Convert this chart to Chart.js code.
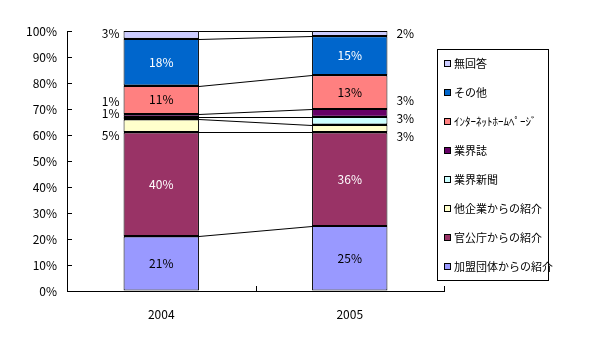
<!DOCTYPE html>
<html lang="ja">
<head>
  <meta charset="UTF-8">
  <title>紹介経路</title>
  <style>
    html, body { margin: 0; padding: 0; background: #fff; }
    #wrap { width: 598px; height: 362px; position: relative; }
  </style>
</head>
<body>
  <div id="wrap"><canvas id="grafico" width="598" height="362"></canvas></div>

  <script src="https://cdn.jsdelivr.net/npm/chart.js"></script>
  <script>
    // datos (de abajo hacia arriba)
    const anios = ['2004', '2005'];
    const series = ['加盟団体からの紹介', '官公庁からの紹介', '他企業からの紹介', '業界新聞', '業界誌', 'ｲﾝﾀｰﾈｯﾄﾎｰﾑﾍﾟｰｼﾞ', 'その他', '無回答'];
    const kameiDantai = [21, 25];
    const kankocho = [40, 36];
    const taKigyo = [5, 3];
    const gyokaiShinbun = [1, 3];
    const gyokaiShi = [1, 3];
    const internet = [11, 13];
    const sonota = [18, 15];
    const mukaito = [3, 2];
    const yTicks = [0, 10, 20, 30, 40, 50, 60, 70, 80, 90, 100];

    const colores = ['#9999FF', '#993366', '#FFFFCC', '#CCFFFF', '#660066', '#FF8080', '#0066CC', '#CCCCFF'];
    const colorTexto = ['#000', '#fff', '#000', '#000', '#fff', '#000', '#fff', '#000'];
    // desplazamiento vertical de las etiquetas pequeñas (px)
    const desplaza2004 = [0, 0, 10, -5, -14, 0, 0, -1];
    const desplaza2005 = [0, 0, 8, -2, -12, 0, 0, 0];

    const valores = [kameiDantai, kankocho, taKigyo, gyokaiShinbun, gyokaiShi, internet, sonota, mukaito];
    const fuente = '"Noto Sans CJK JP", "DejaVu Sans", sans-serif';

    const extras = {
      id: 'extras',
      afterDatasetsDraw(chart) {
        const ctx = chart.ctx;
        const area = chart.chartArea;
        const ys = chart.scales.y;
        ctx.save();

        // bordes gruesos entre segmentos
        ctx.fillStyle = '#000';
        valores.forEach((v, i) => {
          chart.getDatasetMeta(i).data.forEach(bar => {
            const x0 = Math.round(bar.x - bar.width / 2);
            const x1 = Math.round(bar.x + bar.width / 2);
            if (i < valores.length - 1) ctx.fillRect(x0, Math.round(bar.y) - 1, x1 - x0, 2);
          });
        });

        // lineas de serie entre barras
        ctx.strokeStyle = '#000';
        ctx.lineWidth = 1;
        valores.forEach((v, i) => {
          const m = chart.getDatasetMeta(i).data;
          const a = m[0], b = m[1];
          ctx.beginPath();
          ctx.moveTo(a.x + a.width / 2, Math.round(a.y) + 0.5);
          ctx.lineTo(b.x - b.width / 2, Math.round(b.y) + 0.5);
          ctx.stroke();
        });

        // marcas del eje Y hacia dentro
        yTicks.forEach(t => {
          const y = Math.round(ys.getPixelForValue(t)) + 0.5;
          ctx.beginPath();
          ctx.moveTo(area.left, y);
          ctx.lineTo(area.left + 5, y);
          ctx.stroke();
        });
        // marcas del eje X
        const paso = (area.right - area.left) / anios.length;
        for (let k = 0; k <= anios.length; k++) {
          const x = Math.round(area.left + paso * k) + 0.5;
          ctx.beginPath();
          ctx.moveTo(x, area.bottom);
          ctx.lineTo(x, area.bottom - 5);
          ctx.stroke();
        }

        // etiquetas de datos
        ctx.font = '12px ' + fuente;
        ctx.textBaseline = 'middle';
        valores.forEach((v, i) => {
          const m = chart.getDatasetMeta(i).data;
          m.forEach((bar, j) => {
            const txt = v[j] + '%';
            const cy = (bar.y + bar.base) / 2;
            if (v[j] >= 10) {
              ctx.fillStyle = colorTexto[i];
              ctx.textAlign = 'center';
              ctx.fillText(txt, bar.x, cy);
            } else if (j === 0) {
              ctx.fillStyle = '#000';
              ctx.textAlign = 'right';
              ctx.fillText(txt, bar.x - bar.width / 2 - 4, cy + desplaza2004[i]);
            } else {
              ctx.fillStyle = '#000';
              ctx.textAlign = 'left';
              ctx.fillText(txt, bar.x + bar.width / 2 + 9, cy + desplaza2005[i]);
            }
          });
        });

        // leyenda
        const lx = 437, ly = 49, lw = 111, lh = 231;
        ctx.fillStyle = '#fff';
        ctx.fillRect(lx, ly, lw, lh);
        ctx.strokeRect(lx + 0.5, ly + 0.5, lw, lh);
        ctx.font = '11px ' + fuente;
        ctx.textAlign = 'left';
        for (let k = 0; k < series.length; k++) {
          const i = series.length - 1 - k;
          const y = 64 + k * 29;
          ctx.fillStyle = colores[i];
          ctx.fillRect(444, y - 4, 7, 7);
          ctx.strokeStyle = '#000';
          ctx.strokeRect(444.5, y - 3.5, 6, 6);
          ctx.fillStyle = '#000';
          ctx.fillText(series[i], 454, y);
        }
        ctx.restore();
      }
    };

    new Chart(document.querySelector('#grafico'), {
      type: 'bar',
      data: {
        labels: anios,
        datasets: series.map((s, i) => ({
          label: s,
          data: valores[i],
          backgroundColor: colores[i],
          borderColor: '#000',
          borderWidth: 1,
          borderSkipped: false,
          barPercentage: 0.4,
          categoryPercentage: 1.0
        }))
      },
      options: {
        responsive: false,
        animation: false,
        layout: { padding: { left: 0, top: 31, right: 154, bottom: 0 } },
        plugins: { legend: { display: false }, tooltip: { enabled: false } },
        scales: {
          x: {
            stacked: true,
            grid: { display: false, drawTicks: false },
            border: { display: true, color: '#000', width: 1 },
            ticks: { color: '#000', padding: 16, font: { family: fuente, size: 12 } },
            afterFit: s => { s.height = 71; }
          },
          y: {
            stacked: true,
            min: 0,
            max: 100,
            grid: { drawOnChartArea: false, drawTicks: false },
            border: { display: true, color: '#000', width: 1 },
            afterBuildTicks: s => { s.ticks = yTicks.map(v => ({ value: v })); },
            ticks: { color: '#000', padding: 10, font: { family: fuente, size: 12 }, callback: v => v + '%' },
            afterFit: s => { s.width = 67; }
          }
        }
      },
      plugins: [extras]
    });
  </script>
</body>
</html>
